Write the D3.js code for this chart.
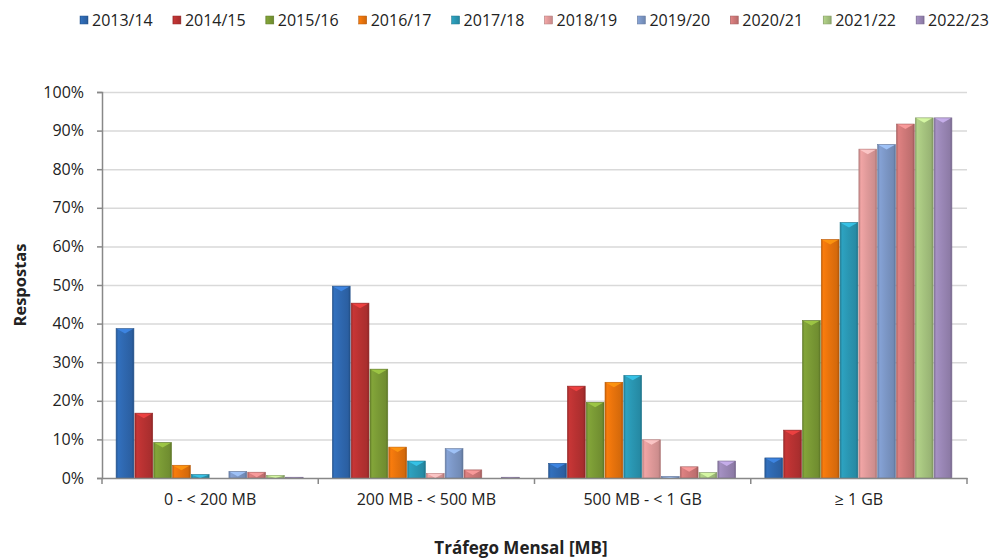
<html>
<head>
<script src="https://d3js.org/d3.v7.min.js"></script>
<style>
  body { margin: 0; background: #fff; }
  text { font-family: "Open Sans", "Liberation Sans", sans-serif; fill: #222; }
  .gridlines line { stroke: #d9d9d9; stroke-width: 1.5; }
  .gridlines .domain { stroke: none; }
</style>
</head>
<body>
<svg id="chart" width="993" height="560"></svg>
<script>
const categories = ["0 - < 200 MB", "200 MB - < 500 MB", "500 MB - < 1 GB", "\u2265 1 GB"];
const years = ["2013/14", "2014/15", "2015/16", "2016/17", "2017/18", "2018/19", "2019/20", "2020/21", "2021/22", "2022/23"];
const colors = ["#2f68b0", "#b93232", "#7a9a35", "#e8730c", "#2a97b3", "#e09a9a", "#7c97c6", "#cf7878", "#a6c47f", "#9a87b6"];
// percentage per year, one value per category
const values = {
  "2013/14": [38.7, 49.7, 3.8, 5.2],
  "2014/15": [16.8, 45.3, 23.8, 12.4],
  "2015/16": [9.2, 28.2, 19.6, 40.8],
  "2016/17": [3.3, 8.0, 24.8, 61.8],
  "2017/18": [0.9, 4.4, 26.6, 66.2],
  "2018/19": [0.0, 1.2, 9.9, 85.2],
  "2019/20": [1.7, 7.6, 0.4, 86.4],
  "2020/21": [1.5, 2.1, 2.9, 91.7],
  "2021/22": [0.7, 0.0, 1.4, 93.3],
  "2022/23": [0.2, 0.2, 4.4, 93.3]
};
const yTicks = [0, 10, 20, 30, 40, 50, 60, 70, 80, 90, 100];

const svg = d3.select("svg#chart");
const margin = { top: 92, right: 26, bottom: 82, left: 102 };
const width = +svg.attr("width");
const height = +svg.attr("height");
const chartWidth = width - margin.left - margin.right;
const chartHeight = height - margin.top - margin.bottom;

const g = svg.append("g").attr("transform", `translate(${margin.left},${margin.top})`);

const xScale = d3.scaleBand().domain(categories).range([0, chartWidth]).paddingInner(0);
const x1 = d3.scaleBand().domain(years).range([0, xScale.bandwidth()]).paddingOuter(0.75).paddingInner(0);
const yScale = d3.scaleLinear().domain([0, 100]).range([chartHeight, 0]);

// gradients for 3d look
const defs = svg.append("defs");
colors.forEach((c, i) => {
  const grad = defs.append("linearGradient").attr("id", "grad" + i)
    .attr("x1", "0%").attr("x2", "100%").attr("y1", "0%").attr("y2", "0%");
  const base = d3.color(c);
  grad.append("stop").attr("offset", "0%").attr("stop-color", base.darker(0.5));
  grad.append("stop").attr("offset", "12%").attr("stop-color", base.brighter(0.2));
  grad.append("stop").attr("offset", "45%").attr("stop-color", base);
  grad.append("stop").attr("offset", "88%").attr("stop-color", base.darker(0.25));
  grad.append("stop").attr("offset", "100%").attr("stop-color", base.darker(0.8));
});

// gridlines
g.append("g").attr("class", "gridlines")
  .call(d3.axisLeft(yScale).tickValues(yTicks.slice(1)).tickSize(-chartWidth).tickFormat(""));

// bars
const groups = g.selectAll("g.cat").data(categories).join("g")
  .attr("class", "cat")
  .attr("transform", d => `translate(${xScale(d)},0)`);

groups.each(function (cat, ci) {
  const grp = d3.select(this);
  years.forEach((yr, yi) => {
    const v = values[yr][ci];
    if (v <= 0) return;
    const x = x1(yr), w = x1.bandwidth() - 1, y = yScale(v), h = chartHeight - y;
    grp.append("rect")
      .attr("x", x).attr("y", y).attr("width", w).attr("height", h)
      .attr("fill", `url(#grad${yi})`)
      .attr("stroke", d3.color(colors[yi]).darker(0.6)).attr("stroke-width", 0.6);
    // bevel highlight on top
    const bh = Math.min(5, h);
    grp.append("path")
      .attr("d", `M${x + 1},${y + 0.5} L${x + w - 1},${y + 0.5} L${x + w / 2},${y + bh} Z`)
      .attr("fill", d3.color(colors[yi]).brighter(0.8)).attr("opacity", 0.85);
  });
});

// y axis
const yAxis = g.append("g")
  .call(d3.axisLeft(yScale).tickValues(yTicks).tickSize(5).tickPadding(13).tickFormat(d => d + "%"));
yAxis.select(".domain").attr("stroke", "#888").attr("stroke-width", 1.5);
yAxis.selectAll(".tick line").attr("stroke", "#888").attr("stroke-width", 1.5);
yAxis.selectAll(".tick text").attr("font-size", 16).attr("fill", "#222");

// x axis
const xAxis = g.append("g").attr("transform", `translate(0,${chartHeight})`)
  .call(d3.axisBottom(xScale).tickSize(0).tickPadding(16));
xAxis.select(".domain").attr("stroke", "#888").attr("stroke-width", 1.5);
xAxis.selectAll(".tick text").attr("font-size", 16).attr("fill", "#222");
// boundary ticks between categories
const bounds = categories.map(c => xScale(c)).concat([chartWidth]);
xAxis.selectAll("line.bound").data(bounds).join("line")
  .attr("class", "bound")
  .attr("x1", d => d).attr("x2", d => d).attr("y1", 0).attr("y2", 6)
  .attr("stroke", "#888").attr("stroke-width", 1.5);

// axis titles
svg.append("text")
  .attr("transform", `translate(26,${margin.top + chartHeight / 2}) rotate(-90)`)
  .attr("text-anchor", "middle").attr("font-size", 16.5).attr("font-weight", "bold")
  .text("Respostas");
svg.append("text")
  .attr("x", 521).attr("y", 554)
  .attr("text-anchor", "middle").attr("font-size", 17).attr("font-weight", "bold")
  .text("Tr\u00e1fego Mensal [MB]");

// legend
const legend = svg.append("g").attr("transform", "translate(80,13)");
const items = legend.selectAll("g").data(years).join("g")
  .attr("transform", (d, i) => `translate(${i * 92.9},0)`);
items.append("rect").attr("x", 0).attr("y", 3).attr("width", 8).attr("height", 8)
  .attr("fill", (d, i) => `url(#grad${i})`)
  .attr("stroke", (d, i) => d3.color(colors[i]).darker(0.6)).attr("stroke-width", 0.5);
items.append("text").attr("x", 12).attr("y", 12.5).attr("font-size", 16).text(d => d);
</script>
</body>
</html>
